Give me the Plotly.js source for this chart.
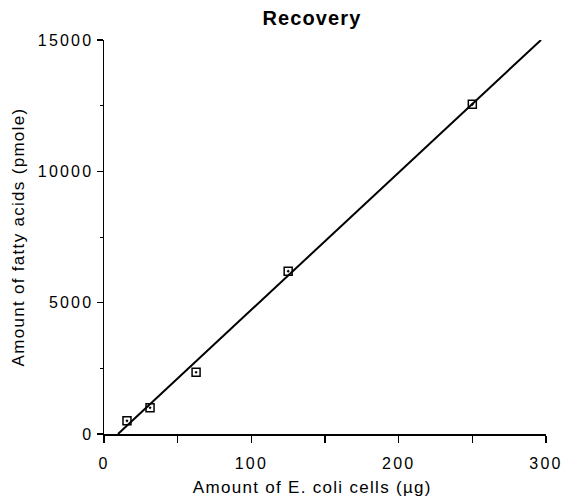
<!DOCTYPE html>
<html>
<head>
<meta charset="utf-8">
<script src="https://cdn.plot.ly/plotly-3.0.1.min.js"></script>
<style>
html,body{margin:0;padding:0;background:#fff;}
#chart{width:566px;height:497px;}
.xtick text, .ytick text {letter-spacing: 2.2px;}
.g-ytitle text, .annotation text {letter-spacing: 1.3px;}
.gtitle {letter-spacing: 1.1px;}
</style>
</head>
<body>
<div id="chart"></div>
<script>
const cellAmount = [15.6, 31.25, 62.5, 125, 250];
const fattyAcids = [500, 1000, 2350, 6200, 12550];
const fitX = [9.5, 296.6];
const fitY = [0, 15000];
const xTickVals = [0, 50, 100, 150, 200, 250, 300];
const xTickText = ['0', '', '100', '', '200', '', '300'];
const yTickVals = [0, 5000, 10000, 15000];
const yTickText = ['0', '5000', '10000', '15000'];
const chartTitle = 'Recovery';
const xTitle = 'Amount of E. coli cells (µg)';
const yTitle = 'Amount of fatty acids (pmole)';

const font = 'Liberation Sans, Arial, Helvetica, sans-serif';
const traces = [
  {x: fitX, y: fitY, mode: 'lines', line: {color: '#000', width: 2}, hoverinfo: 'skip', showlegend: false},
  {x: cellAmount, y: fattyAcids, mode: 'markers',
   marker: {symbol: 'square-open-dot', size: 8, color: '#000', line: {width: 1.5, color: '#000'}}, showlegend: false}
];
const layout = {
  width: 566, height: 497,
  margin: {l: 104, r: 20, t: 40, b: 63},
  paper_bgcolor: '#fff', plot_bgcolor: '#fff',
  font: {family: font, color: '#000', size: 16},
  title: {text: '<b>' + chartTitle + '</b>', x: 0.4706, xanchor: 'center', y: 0.963, yanchor: 'middle', xref: 'paper', font: {size: 20, family: font}},
  xaxis: {
    range: [0, 300], tickmode: 'array', tickvals: xTickVals, ticktext: xTickText,
    ticks: 'outside', ticklen: 7, tickwidth: 1.3, tickcolor: '#000', ticklabelstandoff: 7,
    showline: true, linecolor: '#000', linewidth: 1.5, showgrid: false, zeroline: false,
    tickfont: {size: 16}
  },
  yaxis: {
    range: [0, 15000], tickmode: 'array', tickvals: yTickVals, ticktext: yTickText,
    ticks: 'outside', ticklen: 6, tickwidth: 1.3, tickcolor: '#000',
    minor: {tickvals: [2500, 7500, 12500], ticks: 'outside', ticklen: 3, tickcolor: '#000', tickwidth: 1},
    showline: true, linecolor: '#000', linewidth: 1.5, showgrid: false, zeroline: false,
    tickfont: {size: 16},
    title: {text: yTitle, font: {size: 17}, standoff: 9}
  },
  annotations: [
    {text: xTitle, xref: 'paper', yref: 'paper', x: 0.4706, y: -0.137, xanchor: 'center', yanchor: 'middle',
     showarrow: false, font: {size: 17, family: font, color: '#000'}}
  ]
};
Plotly.newPlot('chart', traces, layout, {staticPlot: true, displayModeBar: false});
</script>
</body>
</html>
